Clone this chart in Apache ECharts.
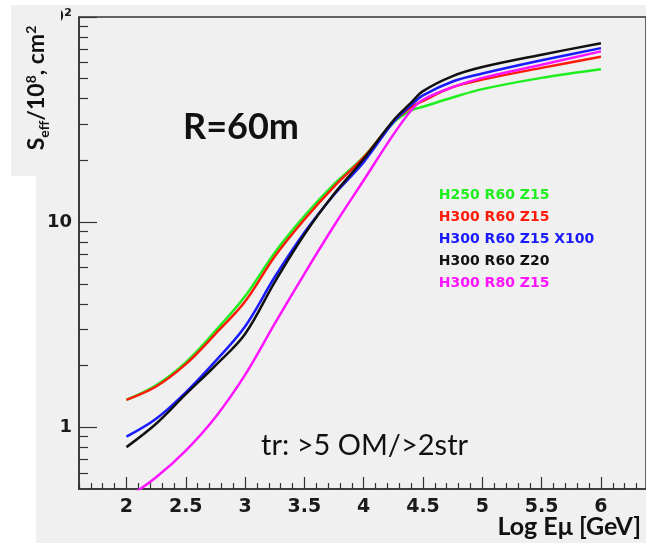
<!DOCTYPE html>
<html><head><meta charset="UTF-8">
<title>Seff vs log E</title>
<script src="https://cdn.jsdelivr.net/npm/echarts@6/dist/echarts.min.js"></script>
<style>
  html, body { margin: 0; padding: 0; background: #fff; }
  #g1 { width: 646px; height: 543px; }
</style>
</head>
<body>
<div id="g1"></div>
<script type="text/javascript">
// log10 of muon energy [GeV]
var energies = [2.0, 2.25, 2.5, 2.75, 3.0, 3.25, 3.5, 3.75, 4.0, 4.25, 4.4, 4.5, 4.75, 5.0, 5.5, 6.0];

// effective area, 10^8 cm^2
var h250r60z15     = [1.36, 1.60, 2.07, 2.95, 4.35, 7.1, 10.7, 15.3, 20.8, 30.5, 35.0, 36.5, 40.5, 44.5, 50.5, 55.6];
var h300r60z15     = [1.36, 1.58, 2.03, 2.85, 4.1, 6.8, 10.3, 14.9, 20.7, 30.8, 36.3, 39.0, 45.5, 49.5, 56.5, 64.0];
var h300r60z15x100 = [0.90, 1.10, 1.48, 2.1, 3.1, 5.4, 8.9, 13.6, 19.6, 30.7, 37.2, 41.5, 48.5, 53.0, 61.5, 70.5];
var h300r60z20     = [0.80, 1.04, 1.45, 2.0, 2.85, 5.1, 8.7, 13.7, 20.3, 31.3, 38.2, 43.5, 51.5, 57.0, 65.5, 74.5];
var h300r80z15     = [0.45, 0.57, 0.77, 1.12, 1.8, 3.2, 5.6, 9.6, 16.0, 26.7, 35.0, 39.5, 45.5, 50.5, 58.5, 68.0];

var seriesNames  = ['H250 R60 Z15', 'H300 R60 Z15', 'H300 R60 Z15 X100', 'H300 R60 Z20', 'H300 R80 Z15'];
var seriesColors = ['#1fee1f', '#ff1a0a', '#1a1aff', '#111111', '#ff14ff'];
var seriesData   = [h250r60z15, h300r60z15, h300r60z15x100, h300r60z20, h300r80z15];

// tick positions
var xLabels  = [2, 2.5, 3, 3.5, 4, 4.5, 5, 5.5, 6];
var xMinor   = [1.6, 1.7, 1.8, 1.9, 2.1, 2.2, 2.3, 2.4, 2.6, 2.7, 2.8, 2.9, 3.1, 3.2, 3.3, 3.4,
                3.6, 3.7, 3.8, 3.9, 4.1, 4.2, 4.3, 4.4, 4.6, 4.7, 4.8, 4.9, 5.1, 5.2, 5.3, 5.4,
                5.6, 5.7, 5.8, 5.9, 6.1, 6.2, 6.3];
var yLabels  = [1, 10, 100];
var yMinor   = [0.6, 0.7, 0.8, 0.9, 2, 3, 4, 5, 6, 7, 8, 9, 20, 30, 40, 50, 60, 70, 80, 90];

var axisColor = '#333';
var tickFont = 'DejaVu Sans';

var series = [];
var legendData = [];
for (var i = 0; i < seriesNames.length; i++) {
    var pts = [];
    for (var j = 0; j < energies.length; j++) {
        pts.push([energies[j], seriesData[i][j]]);
    }
    series.push({
        name: seriesNames[i], type: 'line', data: pts, smooth: 0.35,
        showSymbol: false, xAxisIndex: 0, yAxisIndex: 0,
        lineStyle: {color: seriesColors[i], width: 2.5},
        itemStyle: {color: seriesColors[i]}
    });
    legendData.push({name: seriesNames[i], textStyle: {color: seriesColors[i]}});
}

var option = {
    backgroundColor: '#f0f0f0',
    animation: false,
    grid: {left: 79, right: -2, top: 17, bottom: 54, show: true,
           borderColor: axisColor, borderWidth: 1.5, backgroundColor: 'transparent'},
    legend: {
        data: legendData, orient: 'vertical', left: 423, top: 183,
        itemWidth: 0, itemHeight: 12, itemGap: 8, selectedMode: false,
        itemStyle: {opacity: 0}, lineStyle: {opacity: 0},
        textStyle: {fontFamily: tickFont, fontWeight: 'bold', fontSize: 14}
    },
    xAxis: [{
        type: 'value', min: 1.6, max: 6.38, position: 'bottom',
        axisLine: {lineStyle: {color: axisColor, width: 1.5}},
        axisTick: {inside: true, length: 12, customValues: xLabels, lineStyle: {color: axisColor, width: 1.2}},
        axisLabel: {customValues: xLabels, margin: 9, color: '#1a1a1a', fontFamily: tickFont,
                    fontWeight: 'bold', fontSize: 19},
        splitLine: {show: false}
    }, {
        type: 'value', min: 1.6, max: 6.38, position: 'bottom',
        axisLine: {show: false},
        axisTick: {inside: true, length: 6, customValues: xMinor, lineStyle: {color: axisColor, width: 1.2}},
        axisLabel: {show: false},
        splitLine: {show: false}
    }],
    yAxis: [{
        type: 'log', min: 0.5, max: 100, position: 'left',
        axisLine: {show: true, lineStyle: {color: axisColor, width: 1.5}},
        axisTick: {show: true, inside: true, length: 18, customValues: yLabels, lineStyle: {color: axisColor, width: 1.2}},
        axisLabel: {customValues: yLabels, margin: 7, color: '#1a1a1a', fontFamily: tickFont,
                    fontWeight: 'bold', fontSize: 18,
                    formatter: function (v) { return v >= 100 ? '10²' : String(Math.round(v)); }},
        splitLine: {show: false}
    }, {
        type: 'log', min: 0.5, max: 100, position: 'left',
        axisLine: {show: false},
        axisTick: {show: true, inside: true, length: 9, customValues: yMinor, lineStyle: {color: axisColor, width: 1.2}},
        axisLabel: {show: false},
        splitLine: {show: false}
    }],
    graphic: [
        // white margins around the cropped plot
        {type: 'rect', shape: {x: 0, y: 0, width: 646, height: 5}, style: {fill: '#fff'}, z: 100},
        {type: 'rect', shape: {x: 0, y: 0, width: 11, height: 176}, style: {fill: '#fff'}, z: 100},
        {type: 'rect', shape: {x: 0, y: 176, width: 36, height: 367}, style: {fill: '#fff'}, z: 100},
        // pasted box behind the y title
        {type: 'rect', shape: {x: 11, y: 5, width: 50, height: 171}, style: {fill: '#f0f0f0'}, z: 99},
        {
            type: 'text', x: 37, y: 88, rotation: Math.PI / 2, z: 101,
            style: {
                text: '{a|S}{b|eff}{a|/10}{c|8}{a|, cm}{c|2}',
                align: 'center', verticalAlign: 'middle', fill: '#111',
                rich: {
                    a: {fontFamily: 'Lato', fontWeight: 'bold', fontSize: 23, lineHeight: 30, verticalAlign: 'middle'},
                    b: {fontFamily: 'Lato', fontWeight: 'bold', fontSize: 14, lineHeight: 30, verticalAlign: 'bottom', padding: [0, 0, 1, 0]},
                    c: {fontFamily: 'Lato', fontWeight: 'bold', fontSize: 14, lineHeight: 30, verticalAlign: 'top', padding: [2, 0, 0, 0]}
                }
            }
        },
        {type: 'text', x: 183, y: 127, z: 50,
         style: {text: 'R=60m', fontFamily: 'Lato', fontWeight: 'bold', fontSize: 36, fill: '#111',
                 verticalAlign: 'middle'}},
        {type: 'text', x: 261, y: 446, z: 50,
         style: {text: 'tr: >5 OM/>2str', fontFamily: 'Lato', fontSize: 29, fill: '#111',
                 verticalAlign: 'middle'}},
        {type: 'text', x: 641, y: 527, z: 50,
         style: {text: 'Log Eμ [GeV]', fontFamily: 'Lato', fontWeight: 'bold', fontSize: 25, fill: '#111',
                 align: 'right', verticalAlign: 'middle'}}
    ],
    series: series
};

var myChart = echarts.init(document.getElementById('g1'));
myChart.setOption(option);
</script>
</body>
</html>
